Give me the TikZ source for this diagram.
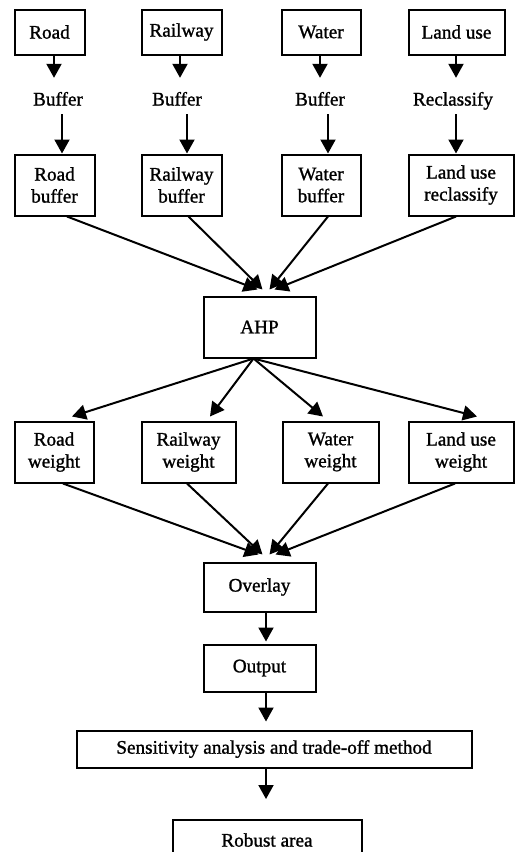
\documentclass[tikz,border=0pt]{standalone}
\usepackage{fontspec}
\setmainfont{Liberation Serif}
\newfontfamily\heavyfont[FakeBold=1.2]{Liberation Serif}
\usetikzlibrary{arrows.meta,calc}
\begin{document}
\begin{tikzpicture}[x=1pt,y=-1pt,
  txt/.style={font=\heavyfont\fontsize{19.2}{22}\selectfont},
  box/.style={draw,line width=2pt,inner sep=0pt,align=center,txt},
  lbl/.style={inner sep=0pt,txt,text height=13pt,text depth=4pt},
  arr/.style={line width=2pt,-{Triangle[width=15pt,length=14pt]}}]
\useasboundingbox (0,0) rectangle (515,852);
\clip (0,0) rectangle (515,852);
% top row
\node[box,minimum width=70,minimum height=45] (road) at (49.5,32) {Road};
\node[box,minimum width=80,minimum height=45] (rail) at (181.5,32) {Railway};
\node[box,minimum width=79,minimum height=45] (water) at (321,32) {Water};
\node[box,minimum width=96,minimum height=45] (land) at (456.5,32) {Land use};
% operation labels
\node[lbl] (buf1) at (58,101) {Buffer};
\node[lbl] (buf2) at (177,101) {Buffer};
\node[lbl] (buf3) at (320,101) {Buffer};
\node[lbl] (recl) at (453,101) {Reclassify};
% second row
\node[box,minimum width=80,minimum height=61] (roadb) at (54.5,185) {Road\\buffer};
\node[box,minimum width=80,minimum height=61] (railb) at (181.5,185) {Railway\\buffer};
\node[box,minimum width=79,minimum height=61] (waterb) at (321,185) {Water\\buffer};
\node[box,minimum width=105,minimum height=61] (landr) at (461,185) {Land use\\reclassify};
% AHP
\node[box,minimum width=112,minimum height=61] (ahp) at (259.5,327) {AHP};
% weights
\node[box,minimum width=79,minimum height=61] (roadw) at (54,452) {Road\\weight};
\node[box,minimum width=94,minimum height=61] (railw) at (188.5,452) {Railway\\weight};
\node[box,minimum width=96,minimum height=61] (waterw) at (330.5,452) {Water\\weight};
\node[box,minimum width=105,minimum height=61] (landw) at (461,452) {Land use\\weight};
% lower chain
\node[box,minimum width=112,minimum height=49] (overlay) at (259.5,587) {Overlay};
\node[box,minimum width=112,minimum height=47] (output) at (259.5,668) {Output};
\node[box,minimum width=395,minimum height=37] (sens) at (274,749) {Sensitivity analysis and trade-off method};
\node[box,minimum width=189,minimum height=40] (robust) at (267,840) {Robust area};
% arrows top -> labels
\draw[arr,shorten >=14.5pt] ($(road.south)+(4.5,0)$) coordinate (a1) -- (a1 |- buf1.north);
\draw[arr,shorten >=14.5pt] ($(rail.south)+(-1.5,0)$) coordinate (a2) -- (a2 |- buf2.north);
\draw[arr,shorten >=14.5pt] ($(water.south)+(-1,0)$) coordinate (a3) -- (a3 |- buf3.north);
\draw[arr,shorten >=14.5pt] ($(land.south)+(-0.5,0)$) coordinate (a4) -- (a4 |- recl.north);
% labels -> second row
\draw[arr,shorten <=4.5pt] ($(buf1.south)+(4,0)$) coordinate (b1) -- (b1 |- roadb.north);
\draw[arr,shorten <=4.5pt] ($(buf2.south)+(10,0)$) coordinate (b2) -- (b2 |- railb.north);
\draw[arr,shorten <=4.5pt] ($(buf3.south)+(8,0)$) coordinate (b3) -- (b3 |- waterb.north);
\draw[arr,shorten <=4.5pt] ($(recl.south)+(3,0)$) coordinate (b4) -- (b4 |- landr.north);
% second row -> AHP
\draw[arr] ($(roadb.south)+(12.5,0)$) -- ($(ahp.north)+(-2,-6)$);
\draw[arr] ($(railb.south)+(7,0)$) -- ($(ahp.north)+(3,-6)$);
\draw[arr] ($(waterb.south)+(7,0)$) -- ($(ahp.north)+(10,-6)$);
\draw[arr] ($(landr.south)+(-5,0)$) -- ($(ahp.north)+(15,-6)$);
% AHP -> weights
\draw[arr] ($(ahp.south)+(-6,0)$) -- ($(roadw.north)+(18,-4)$);
\draw[arr] ($(ahp.south)+(-6,0)$) -- ($(railw.north)+(21.5,-4)$);
\draw[arr] ($(ahp.south)+(-6,0)$) -- ($(waterw.north)+(-7.5,-4)$);
\draw[arr] ($(ahp.south)+(-6,0)$) -- ($(landw.north)+(16,-4)$);
% weights -> overlay
\draw[arr] ($(roadw.south)+(9,0)$) -- ($(overlay.north)+(-1,-7)$);
\draw[arr] ($(railw.south)+(-1.5,0)$) -- ($(overlay.north)+(3,-7)$);
\draw[arr] ($(waterw.south)+(-2.5,0)$) -- ($(overlay.north)+(10,-7)$);
\draw[arr] ($(landw.south)+(-6,0)$) -- ($(overlay.north)+(16,-7)$);
% lower chain
\draw[arr,shorten >=2pt] ($(overlay.south)+(6.5,0)$) coordinate (c1) -- (c1 |- output.north);
\draw[arr,shorten >=8pt] ($(output.south)+(6.5,0)$) coordinate (c2) -- (c2 |- sens.north);
\draw[arr,shorten >=20pt] ($(sens.south)+(-8,0)$) coordinate (c3) -- (c3 |- robust.north);
\end{tikzpicture}
\end{document}
